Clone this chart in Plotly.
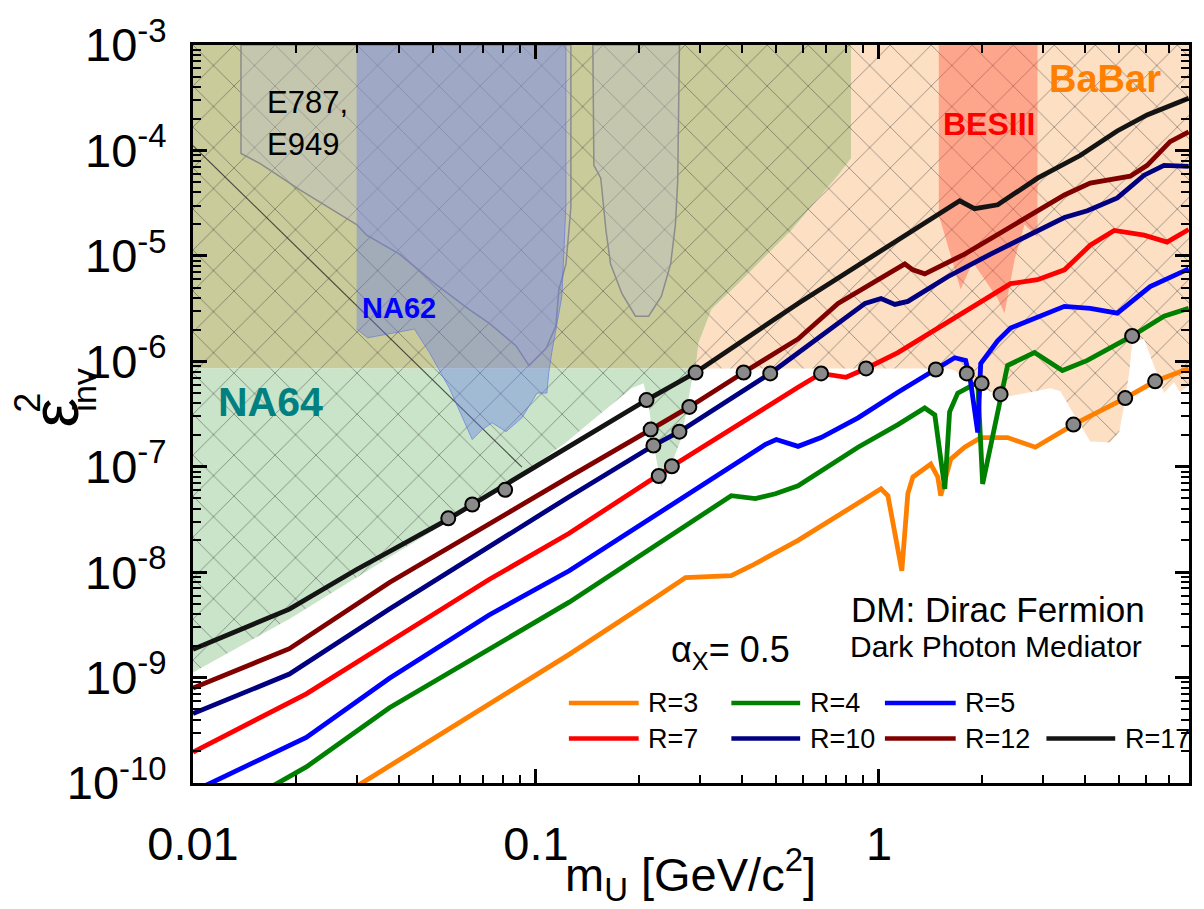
import plotly.graph_objects as go

# ---------------- curves: projected sensitivity for several R = m_U / m_chi ----------------
r_names = ["R=3", "R=4", "R=5", "R=7", "R=10", "R=12", "R=17"]
r_colors = ["#ff8000", "#008000", "#0000ff", "#ff0000", "#000080", "#800000", "#141414"]

m_r3 = [0.020, 0.0312, 0.0585, 0.125, 0.213, 0.273, 0.371, 0.425, 0.581, 1.014, 1.062, 1.113, 1.166,
        1.214, 1.256, 1.416, 1.484, 1.514, 1.619, 1.778, 1.980, 2.371, 2.858, 3.690, 5.224, 6.386, 8.0]
eps_r3 = [4.1e-11, 1.0e-10, 3.59e-10, 1.66e-9, 5.19e-9, 8.88e-9, 9.27e-9, 1.15e-8, 2.0e-8, 6.17e-8, 5.31e-8,
          2.34e-8, 1.03e-8, 5.54e-8, 8.0e-8, 1.06e-7, 8.0e-8, 5.31e-8, 1.18e-7, 1.53e-7, 1.89e-7, 1.89e-7,
          1.53e-7, 2.51e-7, 4.48e-7, 6.46e-7, 8.55e-7]

m_r4 = [0.01, 0.0214, 0.0374, 0.0730, 0.125, 0.371, 0.436, 0.499, 0.581, 0.869, 1.136, 1.360, 1.455, 1.556,
        1.607, 1.697, 1.815, 1.941, 2.006, 2.263, 2.371, 2.842, 3.426, 4.052, 5.473, 6.779, 8.0]
eps_r4 = [3.5e-11, 1.42e-10, 5.18e-10, 1.88e-9, 5.19e-9, 5.31e-8, 4.98e-8, 5.54e-8, 6.59e-8, 1.53e-7, 2.51e-7,
          3.61e-7, 3.10e-7, 6.17e-8, 3.31e-7, 4.99e-7, 5.67e-7, 6.32e-7, 6.87e-8, 4.88e-7, 9.12e-7, 1.21e-6,
          8.18e-7, 1.02e-6, 1.74e-6, 2.68e-6, 3.18e-6]

m_r5 = [0.01, 0.0214, 0.0374, 0.0730, 0.125, 0.467, 0.502, 0.581, 0.678, 0.869, 1.136, 1.465, 1.663, 1.790,
        1.851, 1.941, 1.980, 2.218, 2.420, 3.474, 4.130, 4.955, 6.176, 8.0]
eps_r5 = [8.3e-11, 2.71e-10, 9.87e-10, 3.92e-9, 1.03e-8, 1.63e-7, 1.81e-7, 1.56e-7, 1.89e-7, 2.91e-7, 5.09e-7,
          8.36e-7, 1.08e-6, 1.02e-6, 6.32e-7, 2.11e-7, 9.51e-7, 1.56e-6, 2.07e-6, 3.32e-6, 3.18e-6, 2.86e-6,
          5.11e-6, 7.53e-6]

m_r7 = [0.01, 0.0214, 0.0374, 0.0730, 0.125, 0.228, 0.249, 0.581, 0.678, 0.802, 0.917, 1.136, 1.941, 2.420,
        2.899, 3.474, 4.130, 4.853, 5.931, 6.918, 8.0]
eps_r7 = [1.96e-10, 7.00e-10, 2.19e-9, 8.51e-9, 2.34e-8, 8.17e-8, 1.01e-7, 5.67e-7, 7.67e-7, 7.05e-7, 8.55e-7,
          1.21e-6, 3.54e-6, 5.45e-6, 5.94e-6, 7.37e-6, 1.26e-5, 1.74e-5, 1.57e-5, 1.35e-5, 1.78e-5]

m_r10 = [0.01, 0.0191, 0.0374, 0.0730, 0.125, 0.220, 0.262, 0.482, 0.911, 1.014, 1.113, 1.214, 1.587, 2.117,
         2.767, 3.474, 4.052, 4.955, 5.931, 6.779, 8.0]
eps_r10 = [4.55e-10, 1.08e-9, 4.46e-9, 1.77e-8, 5.20e-8, 1.59e-7, 2.15e-7, 7.67e-7, 3.54e-6, 3.94e-6, 3.46e-6,
           3.70e-6, 6.34e-6, 1.04e-5, 1.60e-5, 2.31e-5, 2.68e-5, 3.55e-5, 5.82e-5, 7.22e-5, 7.07e-5]

m_r12 = [0.01, 0.0191, 0.0374, 0.0730, 0.125, 0.216, 0.280, 0.403, 0.581, 0.760, 1.190, 1.256, 1.360, 1.778,
         2.218, 2.899, 3.474, 4.130, 5.403, 6.053, 7.063, 8.0]
eps_r12 = [7.96e-10, 1.88e-9, 7.98e-9, 2.90e-8, 8.00e-8, 2.25e-7, 3.69e-7, 7.83e-7, 1.63e-6, 3.54e-6, 8.38e-6,
           7.37e-6, 6.76e-6, 1.04e-5, 1.60e-5, 2.68e-5, 3.78e-5, 4.90e-5, 5.70e-5, 7.22e-5, 1.21e-4, 1.50e-4]

m_r17 = [0.01, 0.0191, 0.0300, 0.0547, 0.125, 0.210, 0.292, 0.581, 1.72, 1.90, 2.22, 2.90, 3.86, 4.95, 6.05, 8.0]
eps_r17 = [1.85e-9, 4.46e-9, 1.06e-8, 3.10e-8, 1.56e-7, 4.29e-7, 7.83e-7, 3.54e-6, 3.33e-5, 2.80e-5, 3.05e-5,
           5.46e-5, 8.95e-5, 1.53e-4, 2.17e-4, 3.13e-4]

# points where the curves cross the existing exclusion boundaries
dot_m = [0.0555, 0.0652, 0.0813, 0.210, 0.292, 0.216, 0.280, 0.403, 0.220, 0.262, 0.482, 0.228, 0.249,
         0.678, 0.917, 1.465, 1.803, 1.993, 2.263, 5.473, 3.690, 5.224, 6.386]
dot_eps = [3.24e-8, 4.38e-8, 6.04e-8, 4.29e-7, 7.83e-7, 2.25e-7, 3.69e-7, 7.83e-7, 1.59e-7, 2.15e-7, 7.67e-7,
           8.17e-8, 1.01e-7, 7.67e-7, 8.55e-7, 8.36e-7, 7.67e-7, 6.18e-7, 4.88e-7, 1.74e-6, 2.51e-7, 4.48e-7,
           6.46e-7]

# ---------------- excluded regions ----------------
olive_m = [0.01, 0.829, 0.829, 0.760, 0.555, 0.389, 0.325, 0.298, 0.292, 0.01]
olive_eps = [1e-3, 1e-3, 8.39e-5, 5.82e-5, 1.74e-5, 5.45e-6, 3.11e-6, 1.50e-6, 8.55e-7, 8.55e-7]

babar_m = [0.829, 8.02, 8.02, 7.55, 7.25, 6.78, 6.18, 5.93, 5.47, 5.37, 5.19, 5.02, 4.72, 4.13, 3.71, 3.38,
           3.16, 2.42, 2.22, 1.85, 1.66, 1.587, 0.292, 0.298, 0.325, 0.389, 0.555, 0.760, 0.829]
babar_eps = [1e-3, 1e-3, 5.93e-7, 5.09e-7, 6.32e-7, 4.99e-7, 1.13e-6, 1.63e-6, 1.50e-6, 7.83e-7, 3.85e-7,
             2.15e-7, 1.70e-7, 1.73e-7, 3.10e-7, 5.21e-7, 5.56e-7, 4.68e-7, 4.78e-7, 6.32e-7, 8.18e-7, 8.55e-7,
             8.55e-7, 1.50e-6, 3.11e-6, 5.45e-6, 1.74e-5, 5.82e-5, 8.39e-5]

na64_m = [0.01, 0.292, 0.284, 0.266, 0.244, 0.232, 0.223, 0.213, 0.206, 0.190, 0.1525, 0.1223, 0.0781,
          0.0400, 0.0191, 0.01]
na64_eps = [8.55e-7, 8.55e-7, 6.32e-7, 1.89e-7, 9.10e-8, 6.44e-8, 1.31e-7, 3.85e-7, 6.18e-7, 5.56e-7, 3.10e-7,
            1.70e-7, 5.91e-8, 1.59e-8, 3.60e-9, 1.12e-9]

# older limit edge running through the NA64 area
edge_m = [0.01, 0.0910]
edge_eps = [1.11e-4, 9.9e-8]

na62_m = [0.0300, 0.1223, 0.1223, 0.119, 0.1112, 0.109, 0.1076, 0.1007, 0.0910, 0.0818, 0.0745, 0.0697,
          0.0652, 0.0559, 0.0489, 0.0442, 0.0323, 0.0300]
na62_eps = [1e-3, 1e-3, 3.05e-5, 4.12e-6, 1.21e-6, 7.83e-7, 4.99e-7, 4.99e-7, 2.91e-7, 2.15e-7, 2.61e-7,
            2.25e-7, 1.81e-7, 5.56e-7, 1.21e-6, 2.02e-6, 1.67e-6, 2.02e-6]

e787_m = [0.0138, 0.1264, 0.1264, 0.1223, 0.1166, 0.1143, 0.107, 0.0954, 0.0875, 0.0730, 0.0638, 0.0512,
          0.0400, 0.0321, 0.0300, 0.0205, 0.01566, 0.0138, 0.0138]
e787_eps = [1e-3, 1e-3, 2.86e-5, 8.38e-6, 4.79e-6, 2.16e-6, 1.32e-6, 9.12e-7, 1.40e-6, 2.30e-6, 3.11e-6,
            5.33e-6, 1.04e-5, 1.57e-5, 1.98e-5, 4.22e-5, 7.53e-5, 9.35e-5, 1e-3]

e949_m = [0.1465, 0.262, 0.259, 0.255, 0.247, 0.232, 0.213, 0.195, 0.178, 0.165, 0.160, 0.1545, 0.1475, 0.1465]
e949_eps = [1e-3, 1e-3, 5.12e-5, 1.98e-5, 8.38e-6, 4.12e-6, 2.68e-6, 2.68e-6, 4.40e-6, 8.38e-6, 1.74e-5,
            5.46e-5, 7.22e-5, 1e-3]

bes_m = [1.494, 2.899, 2.899, 2.657, 2.485, 2.323, 2.218, 2.033, 1.876, 1.731, 1.494]
bes_eps = [1e-3, 1e-3, 1.50e-5, 1.98e-5, 9.14e-6, 2.86e-6, 3.94e-6, 5.94e-6, 8.75e-6, 4.79e-6, 2.46e-5]

# ---------------- axes ----------------
x_ticks = [0.01, 0.1, 1]
x_ticktext = ["0.01", "0.1", "1"]
y_ticks = [1e-10, 1e-9, 1e-8, 1e-7, 1e-6, 1e-5, 1e-4, 1e-3]
y_ticktext = ["10<sup>-%d</sup>" % k for k in (10, 9, 8, 7, 6, 5, 4, 3)]

FONT = "Liberation Sans, Arial, sans-serif"
W, H = 1204, 909
L, R, T, B = 193, 1192, 35, 783


def fx(px):
    return (px - L) / (R - L)


def fy(py):
    return (B - py) / (B - T)


HATCH = dict(shape="x", size=29, solidity=0.06, fgcolor="#303030", fgopacity=0.5)

fig = go.Figure()


def region(xs, ys, color, hatch=True, line=None):
    kw = dict(x=xs, y=ys, mode="lines", fill="toself", fillcolor=color, hoverinfo="skip",
              showlegend=False)
    if line is None:
        kw["line"] = dict(width=0, color=color)
    else:
        kw["line"] = line
    if hatch:
        kw["fillpattern"] = dict(bgcolor=color, **HATCH)
    fig.add_trace(go.Scatter(**kw))


region(babar_m, babar_eps, "#fde0c4")
region(olive_m, olive_eps, "#c9cc9a")
region(na64_m, na64_eps, "#c9e4c9")
fig.add_trace(go.Scatter(x=edge_m, y=edge_eps, mode="lines", showlegend=False, hoverinfo="skip",
                         line=dict(color="rgba(30,30,30,0.75)", width=1.2)))
region(bes_m, bes_eps, "rgba(255,70,50,0.38)", hatch=False)
region(e787_m, e787_eps, "rgba(190,190,205,0.40)", hatch=False,
       line=dict(color="#8c8c8c", width=1.5))
region(e949_m, e949_eps, "rgba(190,190,205,0.40)", hatch=False,
       line=dict(color="#8c8c8c", width=1.5))
region(na62_m, na62_eps, "rgba(100,120,235,0.38)", hatch=False,
       line=dict(color="rgba(90,110,230,0.6)", width=1))

curves = [(m_r3, eps_r3), (m_r4, eps_r4), (m_r5, eps_r5), (m_r7, eps_r7),
          (m_r10, eps_r10), (m_r12, eps_r12), (m_r17, eps_r17)]
for (xs, ys), name, col in zip(curves, r_names, r_colors):
    fig.add_trace(go.Scatter(x=xs, y=ys, mode="lines", name=name, showlegend=False,
                             line=dict(color=col, width=4.8)))

fig.add_trace(go.Scatter(x=dot_m, y=dot_eps, mode="markers", showlegend=False,
                         marker=dict(size=14, color="#8a8a8a", line=dict(color="black", width=2))))

x_minor = [k * d for d in (0.01, 0.1, 1) for k in range(2, 10) if k * d < 8.05]
y_minor = [k * d for d in (1e-10, 1e-9, 1e-8, 1e-7, 1e-6, 1e-5, 1e-4) for k in range(2, 10)]

axis_common = dict(showgrid=False, zeroline=False, showline=True, linecolor="black", linewidth=3,
                   mirror="ticks", ticks="inside", ticklen=14, tickwidth=2.5, tickcolor="black",
                   tickfont=dict(family=FONT, size=47, color="black"))

fig.update_xaxes(type="log", range=[-2, 0.904], tickmode="array", tickvals=x_ticks,
                 ticktext=x_ticktext, ticklabelstandoff=18,
                 minor=dict(tickvals=x_minor, ticks="inside", ticklen=8, tickwidth=2, tickcolor="black"),
                 **axis_common)
fig.update_yaxes(type="log", range=[-10, -3], tickmode="array", tickvals=y_ticks,
                 ticktext=y_ticktext, ticklabelstandoff=14,
                 minor=dict(tickvals=y_minor, ticks="inside", ticklen=8, tickwidth=2, tickcolor="black"),
                 **axis_common)

ann = []


def text(px, py, s, size, color="black", bold=False, xanchor="center", angle=0):
    if bold:
        s = "<b>" + s + "</b>"
    ann.append(dict(x=fx(px), y=fy(py), xref="paper", yref="paper", text=s, showarrow=False,
                    xanchor=xanchor, yanchor="middle", textangle=angle,
                    font=dict(family=FONT, size=size, color=color)))


# axis titles
text(692, 876, "m<sub>U</sub> [GeV/c<sup>2</sup>]", 47)
text(55, 408, "ε", 66, angle=-90)
text(27, 397, "2", 36, angle=-90)
text(84, 385, "inv", 34, angle=-90)

# region labels
text(265, 93, "E787,", 31, xanchor="left")
text(265, 136, "E949", 31, xanchor="left")
text(400, 302, "NA62", 29, color="#0000ff", bold=True)
text(271, 397, "NA64", 41, color="#008080", bold=True)
text(1108, 69, "BaBar", 38, color="#ff8000", bold=True)
text(991, 115, "BESIII", 32, color="#ff0000", bold=True)

# model description
text(1000, 607, "DM: Dirac Fermion", 35)
text(998, 645, "Dark Photon Mediator", 30)
text(670, 650, "α<sub>X</sub>= 0.5", 36, xanchor="left")

# key: two rows, four columns
key_cols = [(570, 640, 647), (733, 802, 810), (887, 958, 965), (1049, 1118, 1126)]
key_rows = [702, 738]
key_slots = [(0, 0), (0, 1), (0, 2), (1, 0), (1, 1), (1, 2), (1, 3)]
shapes = []
for name, col, (row, c) in zip(r_names, r_colors, key_slots):
    x0, x1, xt = key_cols[c]
    yk = key_rows[row]
    shapes.append(dict(type="line", xref="paper", yref="paper", x0=fx(x0), x1=fx(x1),
                       y0=fy(yk), y1=fy(yk), line=dict(color=col, width=4.5)))
    text(xt, yk, name, 27, xanchor="left")

fig.update_layout(width=W, height=H, margin=dict(l=L, r=W - R, t=T, b=H - B),
                  plot_bgcolor="white", paper_bgcolor="white", annotations=ann, shapes=shapes,
                  font=dict(family=FONT, color="black"), showlegend=False)

fig.write_html("out.html")
